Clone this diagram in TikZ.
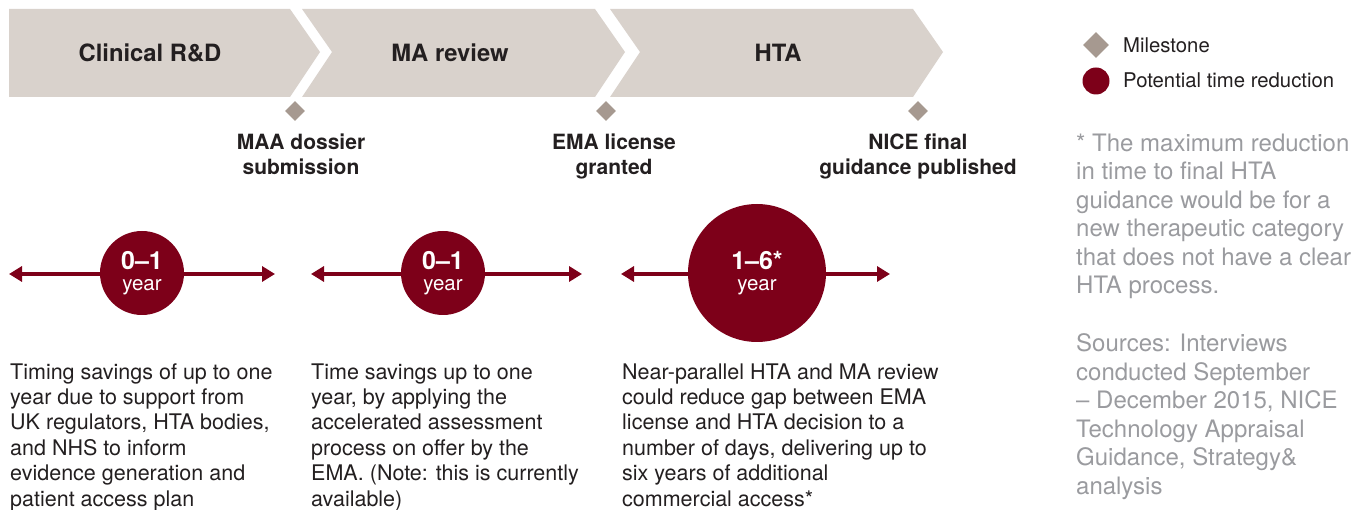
\documentclass[tikz,border=0pt]{standalone}
\usepackage{fontspec}
\setmainfont{TeX Gyre Heros}
\usepackage{xcolor}
\usepackage{tikz}
\usetikzlibrary{arrows.meta,positioning,calc,shapes.geometric}
\definecolor{barGrey}{HTML}{D9D2CC}
\definecolor{taupe}{HTML}{A69990}
\definecolor{wine}{HTML}{7D0019}
\definecolor{ink}{HTML}{231F20}
\definecolor{fadeGrey}{HTML}{9A9B9F}
\newcommand{\yrs}[1]{{\fontsize{25}{25}\selectfont\bfseries #1}\\year}

\begin{document}
\begin{tikzpicture}[x=1pt,y=-1pt,
  phase/.style={font=\fontsize{23.8}{27}\selectfont\bfseries,text=ink,anchor=base},
  mstone/.style={diamond,fill=taupe,minimum size=20pt,inner sep=0pt},
  mslabel/.style={align=center,anchor=base,inner sep=0pt,
    font=\fontsize{21}{25}\selectfont\bfseries,text=ink},
  gain/.style={circle,fill=wine,text=white,inner sep=0pt,align=center,
    font=\fontsize{20.5}{21}\selectfont},
  span/.style={wine,line width=4pt,{Triangle[width=15pt,length=13pt]}-{Triangle[width=15pt,length=13pt]}},
  note/.style={align=left,anchor=base west,inner sep=0pt,
    font=\fontsize{21.5}{25.4}\selectfont,text=ink},
  aside/.style={align=left,anchor=base west,inner sep=0pt,
    font=\fontsize{24}{28.5}\selectfont,text=fadeGrey},
  key/.style={anchor=base west,inner sep=0pt,font=\fontsize{20.3}{22}\selectfont,text=ink}]
\useasboundingbox (0,0) rectangle (1368,510);

% --- phase chevrons ---
\fill[barGrey] (9,9) -- (290,9) -- (320,52) -- (290,97) -- (9,97) -- cycle;
\fill[barGrey] (302,9) -- (595,9) -- (625,52) -- (595,97) -- (302,97) -- (332,52) -- cycle;
\fill[barGrey] (610,9) -- (913,9) -- (943,52) -- (913,97) -- (610,97) -- (640,52) -- cycle;
\node[phase] (rd)  at (150,62) {Clinical R\&D};
\node[phase] (ma)  at (450,62) {MA review};
\node[phase] (hta) at (778,62) {HTA};

% --- milestones (labels sit on their last line) ---
\node[mstone] (m1) at (295,111) {};
\node[mstone] (m2) at (606,111) {};
\node[mstone] (m3) at (918,111) {};
\node[mslabel] (m1t) at (301,175) {MAA dossier\\submission};
\node[mslabel] (m2t) at (614,175) {EMA license\\granted};
\node[mslabel] (m3t) at (918,175) {NICE final\\guidance published};

% --- time reductions ---
\coordinate (l1) at (9,274);   \coordinate (r1) at (275,274);
\coordinate (l2) at (311,274); \coordinate (r2) at (582,274);
\coordinate (l3) at (621,274); \coordinate (r3) at (890,274);
\draw[span] (l1) -- (r1);
\draw[span] (l2) -- (r2);
\draw[span] (l3) -- (r3);
\node[gain,minimum size=84pt]  (g1) at (142,273) {\yrs{0--1}};
\node[gain,minimum size=84pt]  (g2) at (443,273) {\yrs{0--1}};
\node[gain,minimum size=138pt] (g3) at (757,273) {\yrs{1--6*}};

% --- explanations ---
\node[note] (n1) at (10,506) {Timing savings of up to one\\year due to support from\\UK regulators, HTA bodies,\\and NHS to inform\\evidence generation and\\patient access plan};
\node[note] (n2) at (311,506) {Time savings up to one\\year, by applying the\\accelerated assessment\\process on offer by the\\EMA. (Note: this is currently\\available)};
\node[note] (n3) at (622,506) {Near-parallel HTA and MA review\\could reduce gap between EMA\\license and HTA decision to a\\number of days, delivering up to\\six years of additional\\commercial access*};

% --- legend and side notes ---
\node[mstone,minimum size=26pt] (kd) at (1096,45) {};
\node[gain,minimum size=27pt] (kc) at (1096,81) {};
\node[key] (kdt) at (1123,53) {Milestone};
\node[key] (kct) at (1123,88) {Potential time reduction};
\node[aside] (fn) at (1076,294) {* The maximum reduction\\in time to final HTA\\guidance would be for a\\new therapeutic category\\that does not have a clear\\HTA process.};
\node[aside] (src) at (1076,494) {Sources: Interviews\\conducted September\\-- December 2015, NICE\\Technology Appraisal\\Guidance, Strategy\&\\analysis};
\end{tikzpicture}
\end{document}
